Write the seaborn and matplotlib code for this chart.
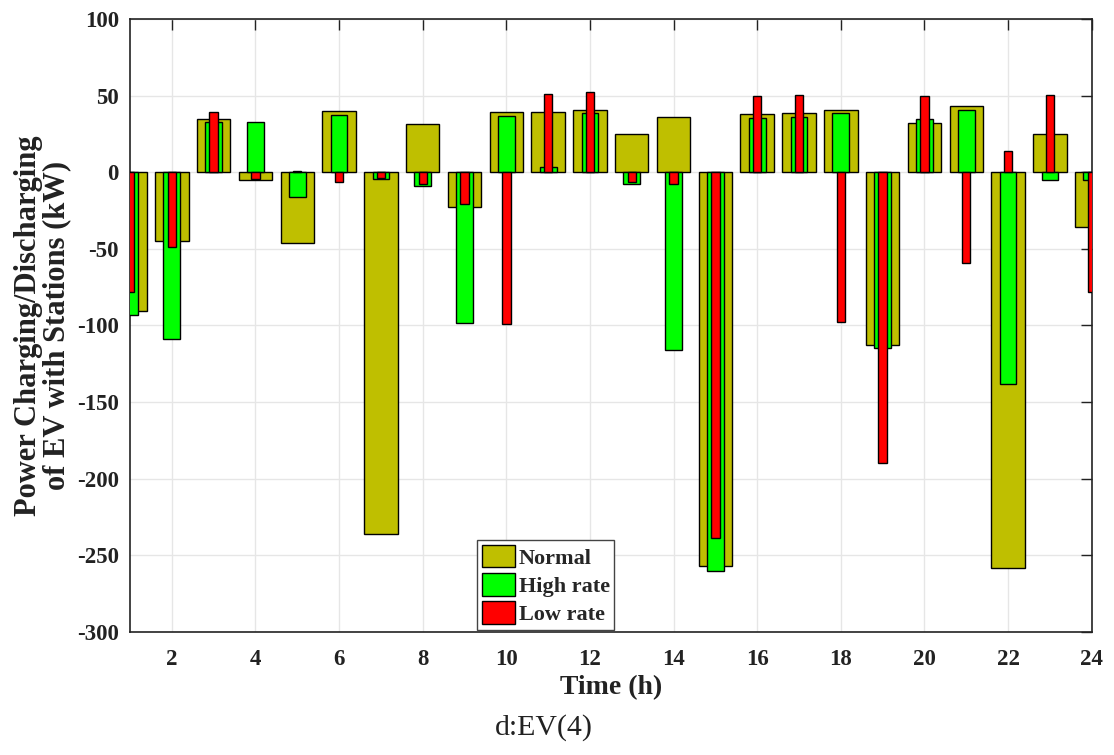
import numpy as np
import pandas as pd
import matplotlib
matplotlib.use("Agg")
import matplotlib.pyplot as plt
import seaborn as sns
from matplotlib.patches import Patch

hours = list(range(1, 25))
normal = [-90.5, -44.8, 34.8, -5.4, -46.5, 39.8, -236, 31.3, -23, 39.2, 39, 40.7,
          24.6, 35.7, -257, 37.8, 38.3, 40.5, -112.5, 32.2, 43.1, -258, 25.2, -36.1]
high_rate = [-92.9, -109, 32.4, 32.6, -16.1, 37.6, -4.5, -9.1, -98.5, 36.8, 3.3, 38.3,
             -7.8, -116, -260, 35.4, 36.1, 38.3, -114.6, 34.8, 40.7, -138.3, -5.4, -5.4]
low_rate = [-78, -49, 39, -4.3, 0.5, -6.3, -4, -7.8, -21, -99.4, 50.7, 52.4,
            -6.3, -8, -239, 49.6, 50.2, -97.9, -190, 49.4, -59.4, 13.5, 50.2, -78.5]
series_names = ["Normal", "High rate", "Low rate"]
series_colors = ["#BFBF00", "#00FF00", "#FF0000"]
series_widths = [0.8, 0.4, 0.2]
yticks = [100, 50, 0, -50, -100, -150, -200, -250, -300]
xticks = list(range(2, 25, 2))

sns.set_theme(style="white")
plt.rcParams['font.family'] = ['Liberation Serif', 'DejaVu Serif']
plt.rcParams['font.weight'] = 'bold'

fig = plt.figure(figsize=(11.14, 7.55), dpi=100)
ax = fig.add_axes([0.1167, 0.163, 0.8633, 0.812])

for name, vals, col, w in zip(series_names, [normal, high_rate, low_rate], series_colors, series_widths):
    df = pd.DataFrame({"Time": hours, "Value": vals})
    sns.barplot(data=df, x="Time", y="Value", native_scale=True, width=w,
                color=col, saturation=1, edgecolor="black", linewidth=1.0,
                errorbar=None, ax=ax, zorder=3)

ax.set_xlim(1, 24)
ax.set_ylim(-300, 100)
ax.set_xticks(xticks)
ax.set_yticks(yticks)
ax.set_xticklabels([str(t) for t in xticks], fontsize=16.5, fontweight='bold')
ax.set_yticklabels([str(t) for t in yticks], fontsize=16.5, fontweight='bold')
ax.grid(True, color="#E6E6E6", linewidth=1.0, zorder=0)
ax.set_axisbelow(True)
ax.tick_params(direction='in', length=8, width=1, top=True, right=True, colors='#222222',
               labelcolor='#222222')
ax.tick_params(axis='x', pad=12)
ax.tick_params(axis='y', pad=8)
for s in ax.spines.values():
    s.set_visible(True)
    s.set_color('#222222')
    s.set_linewidth(1.2)

ax.set_xlabel("Time (h)", fontsize=20, fontweight='bold', color='#222222', labelpad=4)
ax.set_ylabel("Power Charging/Discharging\nof EV with Stations (kW)", fontsize=22,
              fontweight='bold', color='#222222', labelpad=4, linespacing=0.95)

handles = [Patch(facecolor=c, edgecolor='black', label=n) for n, c in zip(series_names, series_colors)]
leg = ax.legend(handles=handles, loc='lower left', bbox_to_anchor=(0.359, 0.0),
                prop={'family': 'Liberation Serif', 'weight': 'bold', 'size': 16},
                frameon=True, fancybox=False, edgecolor='#444444', framealpha=1,
                handlelength=1.5, handleheight=1.2, handletextpad=0.15,
                labelspacing=0.2, borderpad=0.2, borderaxespad=0.1)
leg.set_zorder(10)

fig.text(0.488, 0.036, "d:EV(4)", ha='center', va='center', fontsize=21.5,
         fontweight='normal', family='Liberation Serif', color='#222222')

fig.savefig("out.png", dpi=100, facecolor='white')
